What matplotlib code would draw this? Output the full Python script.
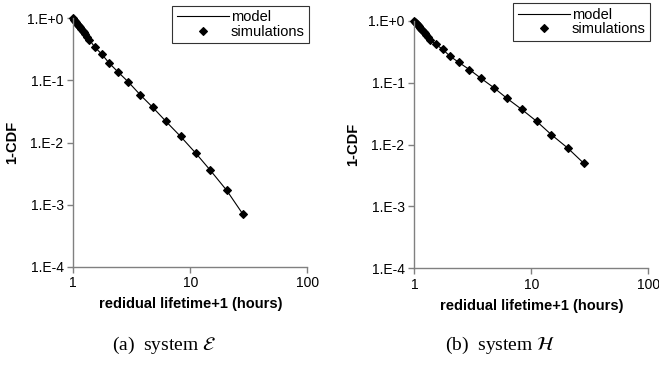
import matplotlib
matplotlib.use("Agg")
import matplotlib.pyplot as plt

plt.rcParams['font.family'] = ['Liberation Sans', 'DejaVu Sans']
plt.rcParams['mathtext.fontset'] = 'stix'

# residual lifetime + 1 (hours), shared by both systems
lifetime = [1.00, 1.02, 1.04, 1.06, 1.08, 1.10, 1.12, 1.14, 1.17, 1.20, 1.23,
            1.27, 1.31, 1.37, 1.53, 1.75, 2.01, 2.40, 2.96, 3.72, 4.78, 6.19,
            8.27, 11.1, 14.85, 20.45, 28.1]

# 1-CDF, system E
ccdf_e = [1.0, 0.952, 0.906, 0.864, 0.825, 0.788, 0.753, 0.721, 0.675, 0.634,
          0.596, 0.550, 0.509, 0.455, 0.341, 0.266, 0.193, 0.138, 0.094,
          0.059, 0.0368, 0.0219, 0.0125, 0.00678, 0.00356, 0.00170, 0.000705]

# 1-CDF, system H
ccdf_h = [1.0, 0.956, 0.915, 0.877, 0.841, 0.807, 0.775, 0.745, 0.702, 0.663,
          0.628, 0.584, 0.545, 0.492, 0.415, 0.344, 0.269, 0.212, 0.162,
          0.117, 0.0828, 0.0557, 0.0370, 0.0237, 0.0144, 0.00878, 0.00496]

yticks = [1e0, 1e-1, 1e-2, 1e-3, 1e-4]
ytick_labels = ["1.E+0", "1.E-1", "1.E-2", "1.E-3", "1.E-4"]
xticks = [1, 10, 100]
xtick_labels = ["1", "10", "100"]

fig = plt.figure(figsize=(6.59, 3.67), dpi=100)

panels = [
    ([0.1112, 0.2733, 0.3551, 0.6768], ccdf_e, (0.2615, 0.9837),
     r"(a)  system $\mathcal{E}$", (0.249, 0.06)),
    ([0.6287, 0.2689, 0.3551, 0.6747], ccdf_h, (0.779, 0.991),
     r"(b)  system $\mathcal{H}$", (0.759, 0.06)),
]

for rect, ccdf, leg_pos, caption, cap_pos in panels:
    ax = fig.add_axes(rect)
    ax.plot(lifetime, ccdf, color='black', lw=0.8, label='model', clip_on=False)
    ax.plot(lifetime, ccdf, linestyle='none', marker='D', ms=4.2, mew=0.8,
            color='black', label='simulations', clip_on=False)
    ax.set_xscale('log')
    ax.set_yscale('log')
    ax.set_xlim(1, 100)
    ax.set_ylim(1e-4, 1)
    ax.set_xticks(xticks)
    ax.set_xticklabels(xtick_labels)
    ax.set_yticks(yticks)
    ax.set_yticklabels(ytick_labels)
    ax.minorticks_off()
    for side in ['top', 'right']:
        ax.spines[side].set_visible(False)
    for side in ['left', 'bottom']:
        ax.spines[side].set_color('#808080')
        ax.spines[side].set_linewidth(1.0)
    ax.tick_params(direction='out', length=4, width=1.0, color='#808080',
                   labelsize=10, pad=3)
    ax.set_xlabel("redidual lifetime+1 (hours)", fontsize=10.5,
                  fontweight='bold', labelpad=5)
    ax.set_ylabel("1-CDF", fontsize=10.5, fontweight='bold', labelpad=6)
    leg = ax.legend(loc='upper left', bbox_to_anchor=leg_pos,
                    bbox_transform=fig.transFigure, fontsize=10.5,
                    frameon=True, fancybox=False, handlelength=3.6,
                    handletextpad=0.1, labelspacing=0.05, borderpad=0.3,
                    borderaxespad=0)
    leg.get_frame().set_edgecolor('black')
    leg.get_frame().set_linewidth(0.8)
    fig.text(cap_pos[0], cap_pos[1], caption, family='Liberation Serif',
             fontsize=14, ha='center', va='center')

fig.savefig("out.png", dpi=100)
